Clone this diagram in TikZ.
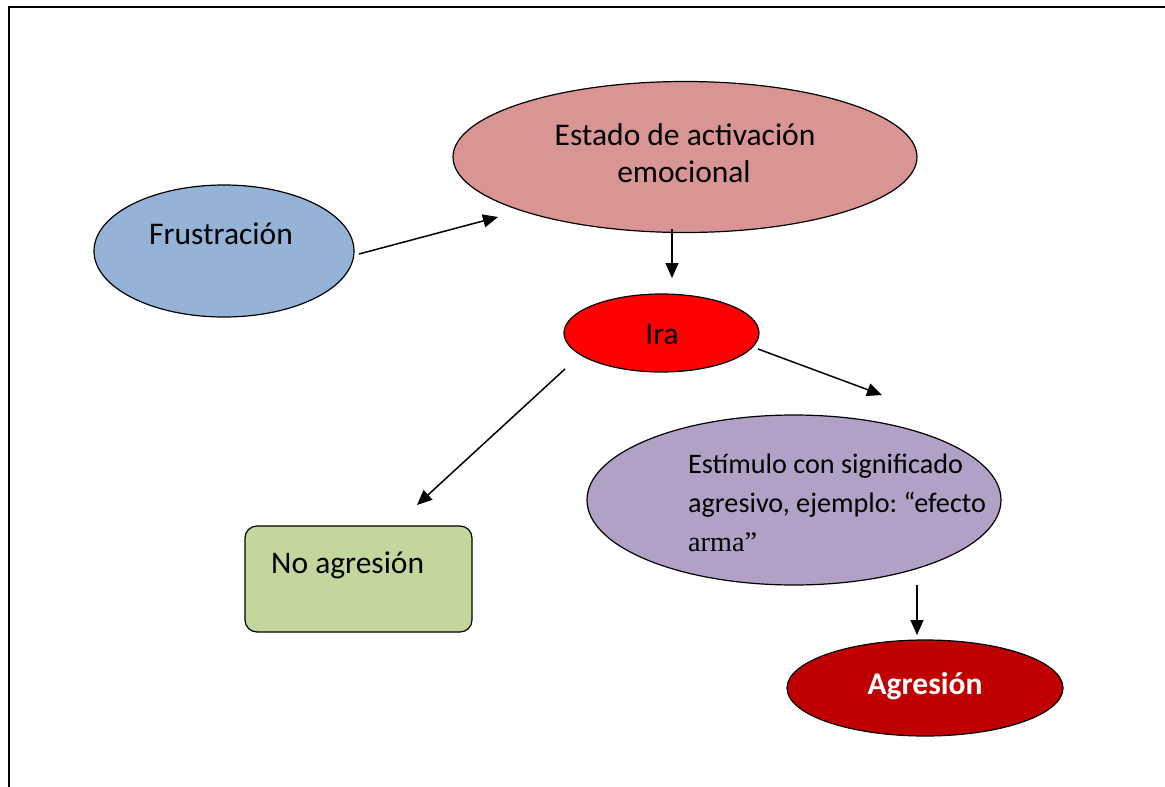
\documentclass[tikz,border=0pt]{standalone}
\usepackage{fontspec}
\setmainfont{Carlito}
\newfontfamily\timesf{Liberation Serif}
\usetikzlibrary{shapes.geometric,arrows.meta}
\definecolor{frusc}{HTML}{95B3D7}
\definecolor{estadoc}{HTML}{D99594}
\definecolor{irac}{HTML}{FF0000}
\definecolor{estimc}{HTML}{B2A1C7}
\definecolor{noagc}{HTML}{C3D69B}
\definecolor{agrc}{HTML}{C00000}
\frenchspacing
\begin{document}
\begin{tikzpicture}[x=1pt,y=-1pt,
  shapeline/.style={draw=black, line width=1.2pt},
  ell/.style={shapeline, ellipse, inner sep=0pt},
  conn/.style={line width=1.5pt, -{Triangle[length=15pt,width=13pt]}},
  lbl/.style={anchor=base, inner sep=0pt, font=\fontsize{31.5}{37}\selectfont},
  lblw/.style={anchor=base west, inner sep=0pt, font=\fontsize{28.2}{39}\selectfont},
  ]
\useasboundingbox (0,0) rectangle (1165,787);
\fill[white] (0,0) rectangle (1165,787);
\draw[line width=2pt, line join=miter] (9,787) -- (9,6.7) -- (1165,6.7);

% shapes
\node[ell, fill=frusc, minimum width=260pt, minimum height=132pt] (frus) at (224,251) {};
\node[lbl] (frust) at (221,244) {Frustración};

\node[ell, fill=estadoc, minimum width=464pt, minimum height=151pt] (estado) at (685,157) {};
\node[lbl] (estadot1) at (685,145) {Estado de activación};
\node[lbl] (estadot2) at (684,182) {emocional};

\node[ell, fill=irac, minimum width=195pt, minimum height=78pt] (ira) at (661.5,333) {};
\node[lbl] (irat) at (662,344) {Ira};

\node[ell, fill=estimc, minimum width=414pt, minimum height=170pt] (estim) at (794,500) {};
\node[lblw] (estimt1) at (688,473) {Estímulo con significado};
\node[lblw] (estimt2) at (688,512) {agresivo, ejemplo: “efecto};
\node[lblw] (estimt3) at (688,551) {\timesf arma”};

\node[shapeline, rectangle, rounded corners=12pt, fill=noagc, minimum width=227pt, minimum height=106pt, inner sep=0pt] (noag) at (358.5,579) {};
\node[lbl, anchor=base west] (noagt) at (271,573) {No agresión};

\node[ell, fill=agrc, minimum width=276pt, minimum height=96pt] (agr) at (925,688) {};
\node[lbl, text=white, font=\fontsize{31.5}{37}\selectfont\bfseries] (agrt) at (925,694) {Agresión};

% connector ends
\coordinate (c1s) at (359,254);
\coordinate (c1e) at (498,217);
\coordinate (c2s) at (672,229);
\coordinate (c2e) at (672,278);
\coordinate (c3s) at (565,369);
\coordinate (c3e) at (417,505);
\coordinate (c4s) at (758,349);
\coordinate (c4e) at (882,395);
\coordinate (c5s) at (917,585);
\coordinate (c5e) at (917,635);

\draw[conn] (c1s) -- (c1e);
\draw[conn] (c2s) -- (c2e);
\draw[conn] (c3s) -- (c3e);
\draw[conn] (c4s) -- (c4e);
\draw[conn] (c5s) -- (c5e);
\end{tikzpicture}
\end{document}
